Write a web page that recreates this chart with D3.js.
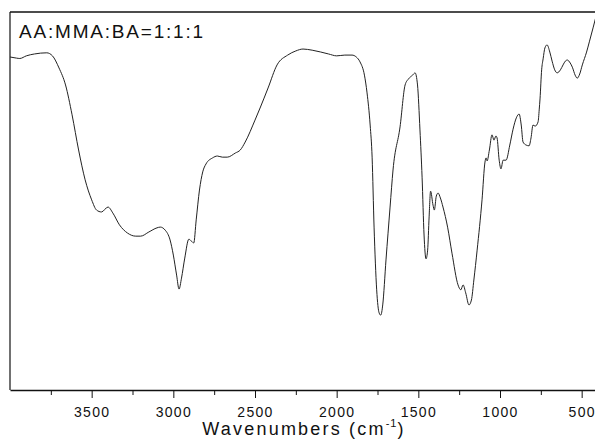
<!DOCTYPE html>
<html>
<head>
<meta charset="utf-8">
<script src="https://cdn.jsdelivr.net/npm/d3@7/dist/d3.min.js"></script>
<style>
  html, body { margin: 0; padding: 0; background: #fff; }
  svg { display: block; }
  text { font-family: "Liberation Sans", Arial, Helvetica, sans-serif; fill: #111; }
</style>
</head>
<body>
<svg id="chart" width="595" height="439"></svg>
<script>
// Wavenumber (cm-1) and transmittance (%)
const wavenumbers = [4000,3960,3940,3900,3850,3775,3740,3700,3660,3620,3580,3540,3500,3470,3440,3400,3370,3330,3280,3230,3200,3150,3100,3080,3050,3020,3000,2980,2965,2950,2930,2905,2890,2875,2860,2840,2820,2800,2760,2730,2700,2670,2620,2590,2560,2500,2469,2420,2365,2300,2250,2206,2150,2050,2000,1950,1906,1880,1857,1830,1814,1795,1783,1771,1755,1740,1730,1718,1698,1673,1655,1612,1581,1560,1535,1520,1505,1490,1477,1465,1453,1443,1434,1425,1410,1402,1390,1379,1365,1349,1320,1294,1257,1240,1226,1210,1190,1175,1160,1140,1110,1092,1085,1079,1065,1049,1037,1025,1018,1005,994,981,963,940,920,900,883,870,859,840,822,810,798,785,767,760,755,745,736,725,712,695,681,665,650,630,614,600,588,570,557,540,527,512,496,470,453,429,410];
const transmittance = [88.1,87.8,87.7,88.4,88.9,89.2,88.4,85.2,80.7,72.8,63.5,55.6,50.3,47.6,47.1,48.4,46.8,43.7,41.5,40.7,40.7,41.8,42.9,43.1,42.3,39.7,35.7,30.4,26.7,29.6,34.9,39.9,39.4,38.9,45.0,52.9,57.7,59.8,61.4,61.9,61.6,61.6,62.7,63.5,65.6,71.4,74.6,79.9,86.0,88.6,89.7,90.2,89.9,88.9,88.4,88.6,88.6,88.1,86.8,83.3,78.6,70.1,61.6,43.1,26.5,20.4,19.8,22.5,34.4,48.4,58.2,69.6,80.7,82.3,83.3,83.9,80.7,68.8,56.3,41.0,34.7,37.0,45.8,52.6,48.9,47.6,51.3,52.1,50.8,48.4,42.9,36.2,27.8,26.5,27.8,25.7,22.5,23.8,29.1,37.0,50.3,60.3,61.4,60.6,63.5,67.5,66.1,67.2,66.7,60.8,58.5,60.8,60.8,64.8,69.0,72.0,73.0,70.1,65.6,64.8,64.6,66.7,70.1,69.8,70.9,74.1,77.0,84.7,87.6,90.5,91.3,89.4,87.0,84.7,83.9,84.7,86.0,87.0,87.3,86.5,85.4,83.3,82.5,83.6,86.0,89.4,92.1,96.0,99.2];
const majorTicks = [3500,3000,2500,2000,1500,1000,500];
const minorTicks = [3750,3250,2750,2250,1750,1250,750];
const sampleLabel = "AA:MMA:BA=1:1:1";
const xTitle = "Wavenumbers (cm";
const xTitleSup = "-1";

const svg = d3.select("#chart");
const mLeft = 10, mTop = 12, mBottom = 390, mRight = 598;

const x = d3.scaleLinear().domain([4000, 400]).range([mLeft, mRight]);
const y = d3.scaleLinear().domain([0, 100]).range([mBottom, mTop]);

const data = wavenumbers.map((w, i) => ({w, t: transmittance[i]}));

// frame
svg.append("line").attr("x1", mLeft).attr("x2", 595).attr("y1", mTop).attr("y2", mTop)
  .attr("stroke", "#111").attr("stroke-width", 1.4);
svg.append("line").attr("x1", mLeft).attr("x2", mLeft).attr("y1", mTop).attr("y2", mBottom)
  .attr("stroke", "#111").attr("stroke-width", 1.2);

// bottom axis (major + minor)
const gMajor = svg.append("g").attr("transform", `translate(0,${mBottom})`)
  .call(d3.axisBottom(x).tickValues(majorTicks).tickSize(8).tickSizeOuter(0).tickPadding(9).tickFormat(d3.format("d")));
gMajor.select(".domain").attr("stroke", "#111").attr("stroke-width", 1.4);
gMajor.selectAll(".tick line").attr("stroke", "#111").attr("stroke-width", 1);
gMajor.selectAll(".tick text").attr("font-size", 14).attr("letter-spacing", 1.3)
  .attr("font-family", "'Liberation Sans', Arial, sans-serif").attr("fill", "#111");

const gMinor = svg.append("g").attr("transform", `translate(0,${mBottom})`)
  .call(d3.axisBottom(x).tickValues(minorTicks).tickSize(5).tickSizeOuter(0).tickFormat(""));
gMinor.select(".domain").remove();
gMinor.selectAll(".tick line").attr("stroke", "#111").attr("stroke-width", 1);

// spectrum
const line = d3.line().x(d => x(d.w)).y(d => y(d.t)).curve(d3.curveMonotoneX);
svg.append("defs").append("clipPath").attr("id", "clip")
  .append("rect").attr("x", mLeft).attr("y", mTop).attr("width", 595 - mLeft).attr("height", mBottom - mTop);
svg.append("path").datum(data).attr("d", line).attr("clip-path", "url(#clip)")
  .attr("fill", "none").attr("stroke", "#222").attr("stroke-width", 1);

// sample label
svg.append("text").attr("x", 19).attr("y", 38).attr("font-size", 19).attr("letter-spacing", 1.8)
  .text(sampleLabel);

// axis title
const t = svg.append("text").attr("x", 304).attr("y", 435).attr("text-anchor", "middle")
  .attr("font-size", 18).attr("letter-spacing", 2.2);
t.append("tspan").text(xTitle);
t.append("tspan").attr("font-size", 11).attr("dy", -8).attr("letter-spacing", 1).text(xTitleSup);
t.append("tspan").attr("dy", 8).text(")");
</script>
</body>
</html>
